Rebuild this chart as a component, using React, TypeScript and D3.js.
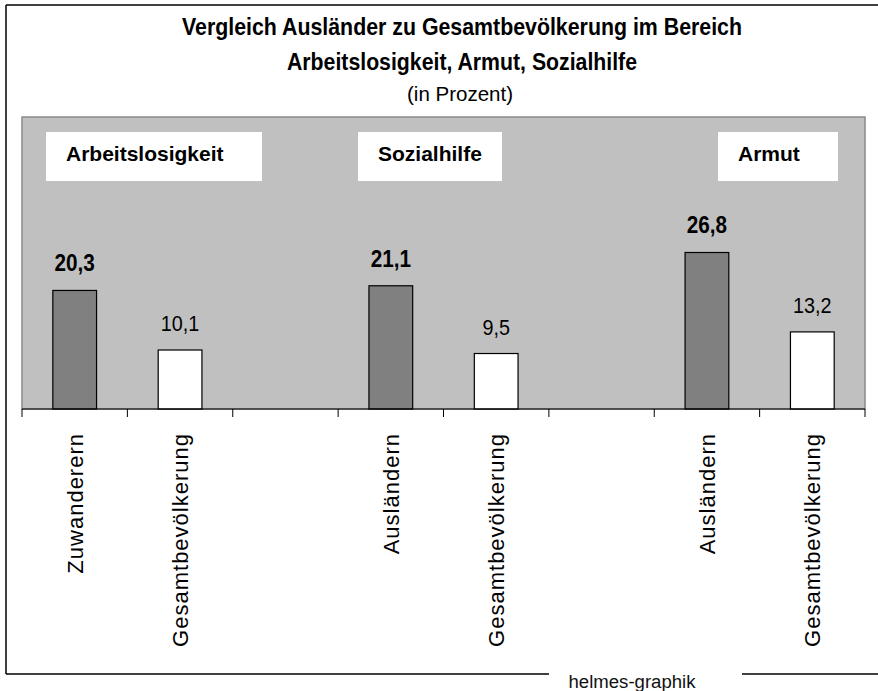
import React from "react";
import * as d3 from "d3";

const groups = ["Arbeitslosigkeit", "Sozialhilfe", "Armut"];
const foreignLabels = ["Zuwanderern", "Ausländern", "Ausländern"];
const totalLabel = "Gesamtbevölkerung";
const foreignValues = [20.3, 21.1, 26.8];
const totalValues = [10.1, 9.5, 13.2];
const titleLines = [
  "Vergleich Ausländer zu Gesamtbevölkerung im Bereich",
  "Arbeitslosigkeit, Armut, Sozialhilfe",
];
const subtitle = "(in Prozent)";
const credit = "helmes-graphik";

type Slot = { key: string; label: string; value: number | null; kind: "foreign" | "total" | "gap" };

const slots: Slot[] = [];
groups.forEach((g, i) => {
  if (i === 1 || i === 2) slots.push({ key: "gap" + i, label: "", value: null, kind: "gap" });
  slots.push({ key: g + "-f", label: foreignLabels[i], value: foreignValues[i], kind: "foreign" });
  slots.push({ key: g + "-t", label: totalLabel, value: totalValues[i], kind: "total" });
});

const W = 878;
const H = 691;
const plot = { left: 22, right: 865, top: 117, bottom: 409 };
const FONT = "'Liberation Sans', Arial, Helvetica, sans-serif";

// legend box layout (annotation boxes inside plot)
const legendBoxes = [
  { x: 46, w: 216 },
  { x: 358, w: 144 },
  { x: 718, w: 120 },
];

export default function App() {
  const slotScale = d3
    .scaleBand<string>()
    .domain(slots.map((s) => s.key))
    .range([plot.left, plot.right])
    .padding(0);
  const barScale = d3
    .scaleBand<string>()
    .domain(slots.map((s) => s.key))
    .range([plot.left, plot.right])
    .paddingInner(0.585)
    .paddingOuter(0.2925);
  const y = d3.scaleLinear().domain([0, 50]).range([plot.bottom, plot.top]);

  const tickXs = [...slots.map((s) => slotScale(s.key) as number), plot.right];

  return (
    <svg
      width={W}
      height={H}
      style={{ position: "absolute", left: 0, top: 0, background: "#fff" }}
      fontFamily={FONT}
    >
      <rect x={0} y={0} width={W} height={H} fill="#fff" />
      {/* outer frame */}
      <line x1={6} y1={5} x2={W} y2={5} stroke="#000" strokeWidth={1.5} />
      <line x1={6} y1={5} x2={6} y2={674} stroke="#000" strokeWidth={1.5} />
      <line x1={6} y1={674} x2={549} y2={674} stroke="#000" strokeWidth={1.5} />
      <line x1={742} y1={674} x2={W} y2={674} stroke="#000" strokeWidth={1.5} />
      <text x={632} y={688} fontSize={18} textAnchor="middle" textLength={127} lengthAdjust="spacingAndGlyphs" fill="#111">
        {credit}
      </text>

      {/* title */}
      <text x={462} y={35} fontSize={23.5} fontWeight="bold" textAnchor="middle" textLength={560} lengthAdjust="spacingAndGlyphs" fill="#000">
        {titleLines[0]}
      </text>
      <text x={462} y={70} fontSize={23.5} fontWeight="bold" textAnchor="middle" textLength={350} lengthAdjust="spacingAndGlyphs" fill="#000">
        {titleLines[1]}
      </text>
      <text x={460} y={101} fontSize={19.5} textAnchor="middle" textLength={106} lengthAdjust="spacingAndGlyphs" fill="#000">
        {subtitle}
      </text>

      {/* plot area */}
      <rect
        x={plot.left}
        y={plot.top}
        width={plot.right - plot.left}
        height={plot.bottom - plot.top}
        fill="#c0c0c0"
        stroke="#8a8a8a"
        strokeWidth={1.5}
      />

      {/* legend boxes */}
      {legendBoxes.map((b, i) => (
        <g key={groups[i]}>
          <rect x={b.x} y={132} width={b.w} height={49} fill="#fff" />
          <text x={b.x + 20} y={161} fontSize={21} fontWeight="bold" fill="#000">
            {groups[i]}
          </text>
        </g>
      ))}

      {/* bars */}
      {slots
        .filter((s) => s.value !== null)
        .map((s) => {
          const x = barScale(s.key) as number;
          const bw = barScale.bandwidth();
          const top = y(s.value as number);
          const isF = s.kind === "foreign";
          return (
            <g key={s.key}>
              <rect
                x={x}
                y={top}
                width={bw}
                height={plot.bottom - top}
                fill={isF ? "#808080" : "#ffffff"}
                stroke="#000"
                strokeWidth={1.2}
              />
              <text
                transform={`translate(${x + bw / 2},${top - 19}) scale(0.9,1)`}
                fontSize={isF ? 23 : 22}
                fontWeight={isF ? "bold" : "normal"}
                textAnchor="middle"
                fill="#000"
              >
                {d3.format(".1f")(s.value as number).replace(".", ",")}
              </text>
            </g>
          );
        })}

      {/* axis */}
      <line x1={plot.left} y1={plot.bottom} x2={plot.right} y2={plot.bottom} stroke="#000" strokeWidth={1.2} />
      {tickXs.map((tx, i) => (
        <line key={i} x1={tx} y1={plot.bottom} x2={tx} y2={plot.bottom + 8} stroke="#000" strokeWidth={1} />
      ))}

      {/* category labels */}
      {slots
        .filter((s) => s.label)
        .map((s) => {
          const cx = (slotScale(s.key) as number) + slotScale.bandwidth() / 2;
          return (
            <text
              key={s.key + "-lbl"}
              transform={`translate(${cx + 8},433) rotate(-90)`}
              fontSize={22}
              letterSpacing={1}
              textAnchor="end"
              fill="#000"
            >
              {s.label}
            </text>
          );
        })}
    </svg>
  );
}
